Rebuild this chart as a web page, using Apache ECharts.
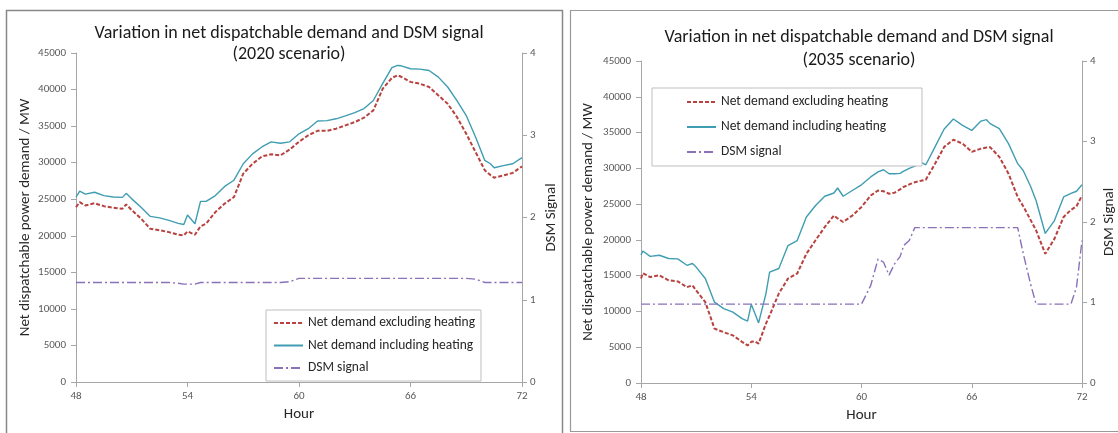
<!DOCTYPE html>
<html>
<head>
<meta charset="utf-8">
<script src="https://cdn.jsdelivr.net/npm/echarts@6/dist/echarts.min.js"></script>
<style>
html,body{margin:0;padding:0;background:#fff;}
#c{width:1118px;height:433px;}
</style>
</head>
<body>
<div id="c"></div>
<script>
// ---------- DATA ----------
const TITLE_2020 = "Variation in net dispatchable demand and DSM signal\n(2020 scenario)";
const TITLE_2035 = "Variation in net dispatchable demand and DSM signal\n(2035 scenario)";
const SERIES_NAMES = ["Net demand excluding heating", "Net demand including heating", "DSM signal"];

// 2020 scenario
const HOURS_2020 = [48,48.2,48.5,49,49.5,50,50.5,50.7,51,51.5,52,52.5,53,53.5,53.8,54,54.4,54.7,55,55.5,56,56.5,57,57.5,58,58.5,59,59.5,60,60.5,61,61.5,62,62.5,63,63.5,64,64.5,65,65.3,65.5,66,66.5,67,67.5,68,68.5,69,69.5,70,70.3,70.5,71,71.5,72];
const EXCL_2020 = [23900,24600,24150,24450,24050,23850,23700,24300,23500,22350,20950,20750,20500,20150,20050,20600,20150,21300,21650,23250,24400,25300,28500,29850,30850,31150,31000,31800,32850,33750,34350,34350,34650,35100,35550,36150,37150,40100,41600,41950,41750,41050,40800,40350,39200,38050,36250,33950,31450,28950,28300,27950,28250,28600,29500];
const INCL_2020 = [25300,26100,25700,25950,25500,25300,25250,25800,25050,23900,22650,22450,22100,21700,21550,22850,21650,24700,24700,25500,26750,27600,29850,31200,32150,32850,32650,32850,33950,34650,35700,35750,36000,36400,36850,37400,38500,40800,43000,43300,43250,42850,42800,42600,41700,40350,38500,36450,33500,30300,29850,29300,29600,29850,30700];
const DSM_2020  = [1.21,1.21,1.21,1.21,1.21,1.21,1.21,1.21,1.21,1.21,1.21,1.21,1.21,1.20,1.19,1.19,1.19,1.21,1.21,1.21,1.21,1.21,1.21,1.21,1.21,1.21,1.21,1.22,1.26,1.26,1.26,1.26,1.26,1.26,1.26,1.26,1.26,1.26,1.26,1.26,1.26,1.26,1.26,1.26,1.26,1.26,1.26,1.26,1.25,1.21,1.21,1.21,1.21,1.21,1.21];

// 2035 scenario
const HOURS_2035 = [48,48.1,48.5,49,49.5,50,50.5,50.8,51,51.5,52,52.5,53,53.5,53.8,54,54.2,54.4,54.8,55,55.5,56,56.5,57,57.5,58,58.5,58.7,59,59.5,60,60.5,60.9,61.2,61.5,61.8,62.1,62.3,62.6,62.9,63.3,63.5,64,64.5,65,65.5,66,66.5,66.8,67,67.5,68,68.5,68.8,69.2,69.5,70,70.5,71,71.4,71.7,72];
const EXCL_2035 = [14600,15350,14800,15050,14350,14200,13400,13650,12950,11300,7600,7100,6650,5750,5250,5750,5800,5500,8300,9450,12500,14600,15300,18050,19950,21800,23400,23000,22500,23400,24600,26200,26900,26800,26450,26600,27050,27400,27750,28050,28300,28400,30650,33000,34000,33450,32300,32750,32900,32950,31600,29250,26000,24700,22800,21350,18050,20150,23200,24200,24700,26200];
const INCL_2035 = [17900,18450,17700,17850,17400,17350,16450,16700,16200,14600,11300,10400,9900,9000,8650,11000,9700,8400,12500,15500,16000,19200,19900,23200,24800,26100,26550,27250,26100,26900,27700,28800,29500,29800,29250,29250,29300,29600,30000,30300,30750,30500,33000,35500,36900,36000,35300,36600,36800,36250,35550,33450,30650,29700,27500,25500,20900,22700,26000,26500,26800,27700];
const DSM_2035  = [0.98,0.98,0.98,0.98,0.98,0.98,0.98,0.98,0.98,0.98,0.98,0.98,0.98,0.98,0.98,0.98,0.98,0.98,0.98,0.98,0.98,0.98,0.98,0.98,0.98,0.98,0.98,0.98,0.98,0.98,0.98,1.21,1.54,1.50,1.34,1.48,1.57,1.71,1.77,1.93,1.93,1.93,1.93,1.93,1.93,1.93,1.93,1.93,1.93,1.93,1.93,1.93,1.93,1.61,1.23,0.98,0.98,0.98,0.98,0.98,1.19,1.77];

const HOUR_MIN = 48, HOUR_MAX = 72, HOUR_STEP = 6;
const MW_MAX = 45000, MW_STEP = 5000;
const DSM_MAX = 4, DSM_STEP = 1;

// ---------- STYLE ----------
const FONT = "Carlito, Lato, 'Liberation Sans', sans-serif";
const C_EXCL = '#b8423f';
const C_INCL = '#3f9db2';
const C_DSM  = '#8a71b8';
const AXIS_C = '#a6a6a6';
const LABEL_C = '#595959';

const pairs = (hs, vs) => hs.map((h, i) => [h, vs[i]]);
const plain = v => String(v);

function xAxis(gi){
  return {
    type:'value', gridIndex:gi, min:HOUR_MIN, max:HOUR_MAX, interval:HOUR_STEP,
    name:'Hour', nameLocation:'middle', nameGap:25,
    nameTextStyle:{fontFamily:FONT, fontSize:15, color:'#262626'},
    axisLine:{lineStyle:{color:AXIS_C}}, axisTick:{show:true, length:5, lineStyle:{color:AXIS_C}},
    axisLabel:{fontFamily:FONT, fontSize:11, color:LABEL_C, margin:9, formatter:plain},
    splitLine:{show:false}
  };
}
function yLeft(gi, gap){
  return {
    type:'value', gridIndex:gi, min:0, max:MW_MAX, interval:MW_STEP, position:'left',
    name:'Net dispatchable power demand / MW', nameLocation:'middle', nameGap:gap, nameRotate:90,
    nameTextStyle:{fontFamily:FONT, fontSize:15, color:'#262626'},
    axisLine:{show:true, lineStyle:{color:AXIS_C}}, axisTick:{show:true, length:5, lineStyle:{color:AXIS_C}},
    axisLabel:{fontFamily:FONT, fontSize:11, color:LABEL_C, margin:10, formatter:plain},
    splitLine:{show:false}
  };
}
function yRight(gi, gap){
  return {
    type:'value', gridIndex:gi, min:0, max:DSM_MAX, interval:DSM_STEP, position:'right',
    name:'DSM Signal', nameLocation:'middle', nameGap:gap, nameRotate:90,
    nameTextStyle:{fontFamily:FONT, fontSize:15, color:'#262626'},
    axisLine:{show:true, lineStyle:{color:AXIS_C}}, axisTick:{show:true, length:5, lineStyle:{color:AXIS_C}},
    axisLabel:{fontFamily:FONT, fontSize:11, color:LABEL_C, margin:8, formatter:plain},
    splitLine:{show:false}
  };
}
function lines(xi, yl, yr, hs, ex, inc, dsm){
  return [
    {name:SERIES_NAMES[0], type:'line', xAxisIndex:xi, yAxisIndex:yl, data:pairs(hs, ex), showSymbol:false, symbol:'none',
     lineStyle:{color:C_EXCL, width:2, type:[4,2]}, itemStyle:{color:C_EXCL}, animation:false, z:3},
    {name:SERIES_NAMES[1], type:'line', xAxisIndex:xi, yAxisIndex:yl, data:pairs(hs, inc), showSymbol:false, symbol:'none',
     lineStyle:{color:C_INCL, width:1.4}, itemStyle:{color:C_INCL}, animation:false, z:3},
    {name:SERIES_NAMES[2], type:'line', xAxisIndex:xi, yAxisIndex:yr, data:pairs(hs, dsm), showSymbol:false, symbol:'none',
     lineStyle:{color:C_DSM, width:1.4, type:[9,3,2,3]}, itemStyle:{color:C_DSM}, animation:false, z:3}
  ];
}
function legend(left, top, gap, pad){
  return {
    left:left, top:top, orient:'vertical', data:SERIES_NAMES,
    itemWidth:29, itemHeight:12, itemGap:gap,
    itemStyle:{opacity:0},
    borderColor:'#bfbfbf', borderWidth:1, padding:pad,
    backgroundColor:'#fff',
    textStyle:{fontFamily:FONT, fontSize:13.5, color:'#262626'},
    selectedMode:false
  };
}

const chart = echarts.init(document.getElementById('c'), null, {renderer:'canvas'});
chart.setOption({
  animation:false,
  backgroundColor:'#fff',
  title:[
    {text:TITLE_2020, left:284, top:18, textAlign:'center',
     textStyle:{fontFamily:FONT, fontSize:18, fontWeight:'normal', color:'#1a1a1a', lineHeight:21}},
    {text:TITLE_2035, left:854, top:21, textAlign:'center',
     textStyle:{fontFamily:FONT, fontSize:18, fontWeight:'normal', color:'#1a1a1a', lineHeight:23}}
  ],
  graphic:[
    {type:'rect', shape:{x:6.5, y:10.5, width:556, height:440}, style:{fill:'none', stroke:'#888', lineWidth:1.5}, silent:true, z:-1},
    {type:'rect', shape:{x:570.5, y:10.5, width:560, height:421}, style:{fill:'none', stroke:'#999', lineWidth:1.2}, silent:true, z:-1}
  ],
  grid:[
    {left:76, top:53, width:446, height:329},
    {left:641, top:61, width:444, height:322}
  ],
  xAxis:[xAxis(0), xAxis(1)],
  yAxis:[yLeft(0,43), yRight(0,22), yLeft(1,45), yRight(1,20)],
  legend:[legend(266, 310, 8.5, [6,6,6,7]), legend(652, 88, 11, [7,34,7,34])],
  series:[].concat(
    lines(0, 0, 1, HOURS_2020, EXCL_2020, INCL_2020, DSM_2020),
    lines(1, 2, 3, HOURS_2035, EXCL_2035, INCL_2035, DSM_2035)
  )
});
</script>
</body>
</html>
